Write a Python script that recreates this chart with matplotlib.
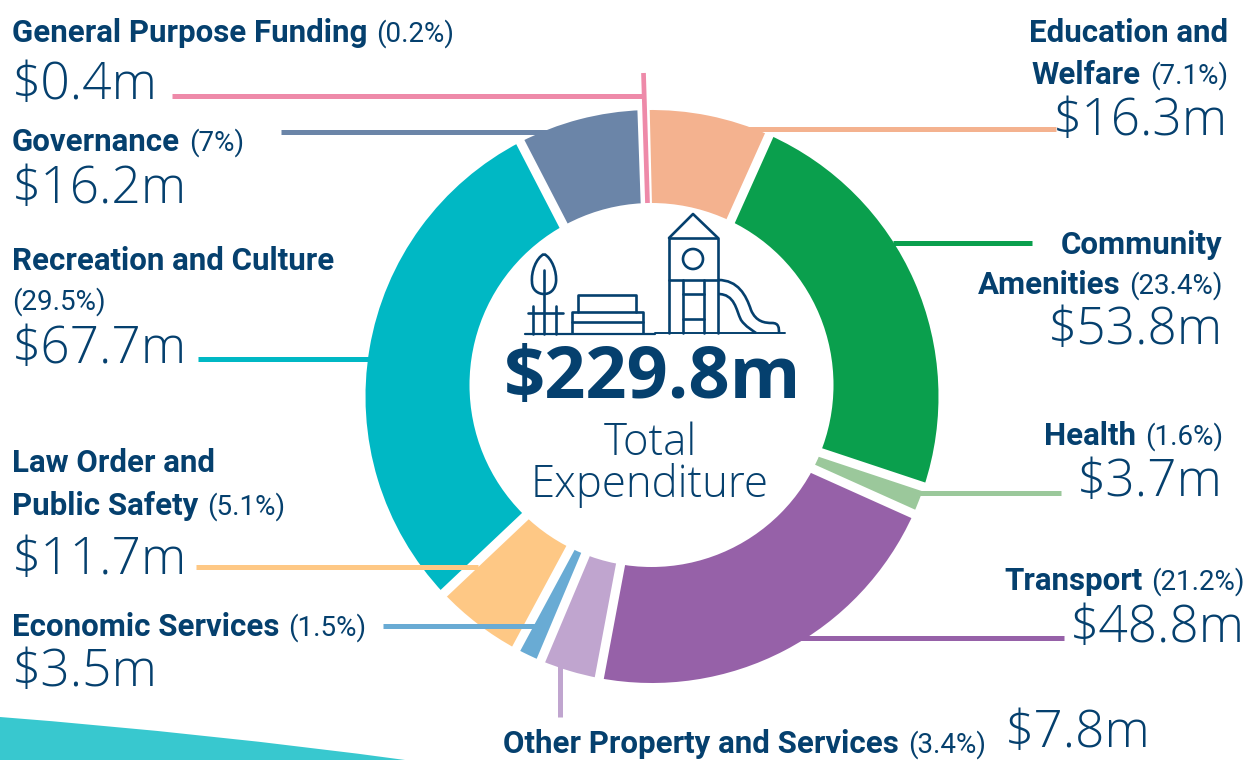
import numpy as np
import matplotlib
matplotlib.use("Agg")
import matplotlib.pyplot as plt
from matplotlib.patches import Circle, PathPatch
from matplotlib.path import Path
from matplotlib import font_manager as fm

categories = ["General Purpose Funding", "Education and Welfare", "Community Amenities", "Health", "Transport",
              "Other Property and Services", "Economic Services", "Law Order and Public Safety",
              "Recreation and Culture", "Governance"]
values = [0.4, 16.3, 53.8, 3.7, 48.8, 7.8, 3.5, 11.7, 67.7, 16.2]
colors = ["#EE8AA9", "#F4B28F", "#0A9F4D", "#9BC89B", "#9661A8", "#C0A5CF", "#69ABD4", "#FEC885", "#00B8C4", "#6B85A8"]
total_label = "$229.8m"

W, H = 1257, 760
NAVY = "#05406E"
avail = {f.name for f in fm.fontManager.ttflist}
NARROW = "Liberation Sans Narrow" if "Liberation Sans Narrow" in avail else "Roboto"
LIGHT = "Open Sans"

fig = plt.figure(figsize=(W / 100, H / 100), dpi=100)
ax = fig.add_axes([0, 0, 1, 1])
Y = lambda py: H - py

# background wave
ax.add_patch(PathPatch(Path([(0, Y(717)), (140, Y(728)), (280, Y(743)), (405, Y(760)), (0, Y(760)), (0, Y(717))],
                            [1, 4, 4, 4, 2, 79]), fc="#38C8CF", ec="none", zorder=0))

# donut: wedges without an outline, then white radial separators taken from the wedge angles
cx, cy, R = 652, Y(396.5), 286.5
wedges, _ = ax.pie(values, colors=colors, center=(cx, cy), radius=R, startangle=92, counterclock=False, frame=True,
                   wedgeprops=dict(edgecolor="none", zorder=2))
for w in wedges:
    a = np.deg2rad(w.theta1)
    ax.plot([cx, cx + (R + 3) * np.cos(a)], [cy, cy + (R + 3) * np.sin(a)], color="white", lw=6.6,
            solid_capstyle="butt", zorder=2.5)
ax.add_patch(Circle((651.5, Y(385)), 182, fc="white", ec="none", zorder=3))

# leader lines, drawn over the ring as in the reference
leaders = [((172, 96), (645, 96), 0), ((281, 132), (550, 132), 9), ((745, 129), (1056, 129), 1),
           ((893, 243), (1032, 243), 2), ((918, 493), (1061, 493), 3), ((800, 638), (1064, 638), 4),
           ((560, 665), (560, 717), 5), ((383, 626), (535, 626), 6), ((196, 567), (478, 567), 7),
           ((198, 359), (372, 359), 8)]
for a, b, i in leaders:
    ax.plot([a[0], b[0]], [Y(a[1]), Y(b[1])], color=colors[i], lw=3.6, solid_capstyle="butt", zorder=2.8)
ax.plot([643.5, 647.5], [Y(73), Y(203)], color=colors[0], lw=3.4, solid_capstyle="butt", zorder=4)
ax.set_xlim(0, W)
ax.set_ylim(0, H)
ax.set_aspect("equal")
ax.axis("off")

# icon
ic = dict(color=NAVY, lw=1.9, solid_capstyle="round", solid_joinstyle="round", zorder=5)
def poly(*pts, **kw):
    ax.plot([p[0] for p in pts], [Y(p[1]) for p in pts], **{**ic, **kw})
poly((525, 333.5), (655, 333.5), lw=1.6)
poly((655, 333), (785, 333), lw=1.4)
ax.add_patch(PathPatch(Path([(544, Y(254)), (552, Y(258)), (557, Y(272)), (556, Y(282)), (555, Y(290)), (550, Y(294)),
                             (544, Y(294)), (538, Y(294)), (532, Y(290)), (532, Y(282)), (531, Y(272)), (536, Y(258)), (544, Y(254))],
                            [1, 4, 4, 4, 4, 4, 4, 4, 4, 4, 4, 4, 4]), fc="none", ec=NAVY, lw=1.9, zorder=5))
poly((544, 270), (544, 334))
poly((533, 306), (533, 334)); poly((556, 306), (556, 334)); poly((528, 313), (563, 313))
poly((572, 333), (572, 312), (643, 312), (643, 333)); poly((572, 322), (643, 322))
poly((578, 312), (578, 295), (636, 295), (636, 312))
poly((669, 333), (669, 238), (718, 238), (718, 333))
poly((669, 238), (693, 214), (718, 238))
poly((669, 279.5), (718, 279.5)); poly((683, 280), (683, 333)); poly((704, 280), (704, 333))
poly((683, 294), (704, 294)); poly((683, 319), (704, 319))
ax.add_patch(Circle((693, Y(259)), 10, fc="none", ec=NAVY, lw=1.9, zorder=5))
ax.add_patch(PathPatch(Path([(718, Y(280)), (738, Y(280)), (746, Y(295)), (751, Y(310)), (756, Y(322)), (765, Y(323)), (772, Y(323)),
                             (779, Y(323)), (779, Y(328)), (779, Y(333))], [1, 4, 4, 4, 4, 4, 4, 4, 4, 4]),
                       fc="none", ec=NAVY, lw=1.9, zorder=5))
ax.add_patch(PathPatch(Path([(718, Y(294)), (735, Y(294)), (736, Y(310)), (741, Y(320)), (746, Y(327)), (752, Y(330)), (756, Y(333))],
                            [1, 4, 4, 4, 4, 4, 4]), fc="none", ec=NAVY, lw=1.9, zorder=5))

# text
BOLD_SIZE, REG_SIZE, AMT_SIZE = 22.5, 20, 37
renderer = fig.canvas.get_renderer()
def label(x, y, bold, reg="", align="left"):
    t1 = ax.text(x, Y(y), bold, family=NARROW, weight="bold", size=BOLD_SIZE, color=NAVY, va="baseline", zorder=6) if bold else None
    t2 = ax.text(x, Y(y), reg, family=NARROW, size=REG_SIZE, color=NAVY, va="baseline", zorder=6) if reg else None
    w1 = t1.get_window_extent(renderer).width if t1 else 0
    w2 = t2.get_window_extent(renderer).width if t2 else 0
    gap = 9 if (t1 and t2) else 0
    x0 = x if align == "left" else x - (w1 + w2 + gap)
    if t1: t1.set_x(x0)
    if t2: t2.set_x(x0 + w1 + gap)
def amount(x, y, s, ha="left"):
    ax.text(x, Y(y), s, family=LIGHT, weight="light", size=AMT_SIZE, color=NAVY, ha=ha, va="baseline", zorder=6)

label(12, 42, "General Purpose Funding", "(0.2%)"); amount(12, 99, "$0.4m")
label(12, 151, "Governance", "(7%)"); amount(12, 203, "$16.2m")
label(12, 270, "Recreation and Culture"); label(12, 310, "", "(29.5%)"); amount(12, 363, "$67.7m")
label(12, 472, "Law Order and"); label(12, 515, "Public Safety", "(5.1%)"); amount(12, 574, "$11.7m")
label(12, 636, "Economic Services", "(1.5%)"); amount(12, 686, "$3.5m")
label(1228, 42, "Education and", align="right"); label(1228, 84, "Welfare", "(7.1%)", align="right"); amount(1228, 135, "$16.3m", "right")
label(1223, 254, "Community", align="right"); label(1223, 294, "Amenities", "(23.4%)", align="right"); amount(1223, 344, "$53.8m", "right")
label(1223, 445, "Health", "(1.6%)", align="right"); amount(1223, 496, "$3.7m", "right")
label(1245, 590, "Transport", "(21.2%)", align="right"); amount(1245, 642, "$48.8m", "right")
label(503, 753, "Other Property and Services", "(3.4%)"); amount(1005, 747, "$7.8m")

ax.text(653, Y(398), total_label, family="Open Sans", weight="bold", size=52, color=NAVY, ha="center", va="baseline", zorder=6)
ax.text(650, Y(455), "Total", family=LIGHT, weight="light", size=31.5, color=NAVY, ha="center", va="baseline", zorder=6)
ax.text(650, Y(497), "Expenditure", family=LIGHT, weight="light", size=31.5, color=NAVY, ha="center", va="baseline", zorder=6)

fig.savefig("out.png", dpi=100, facecolor="white")
